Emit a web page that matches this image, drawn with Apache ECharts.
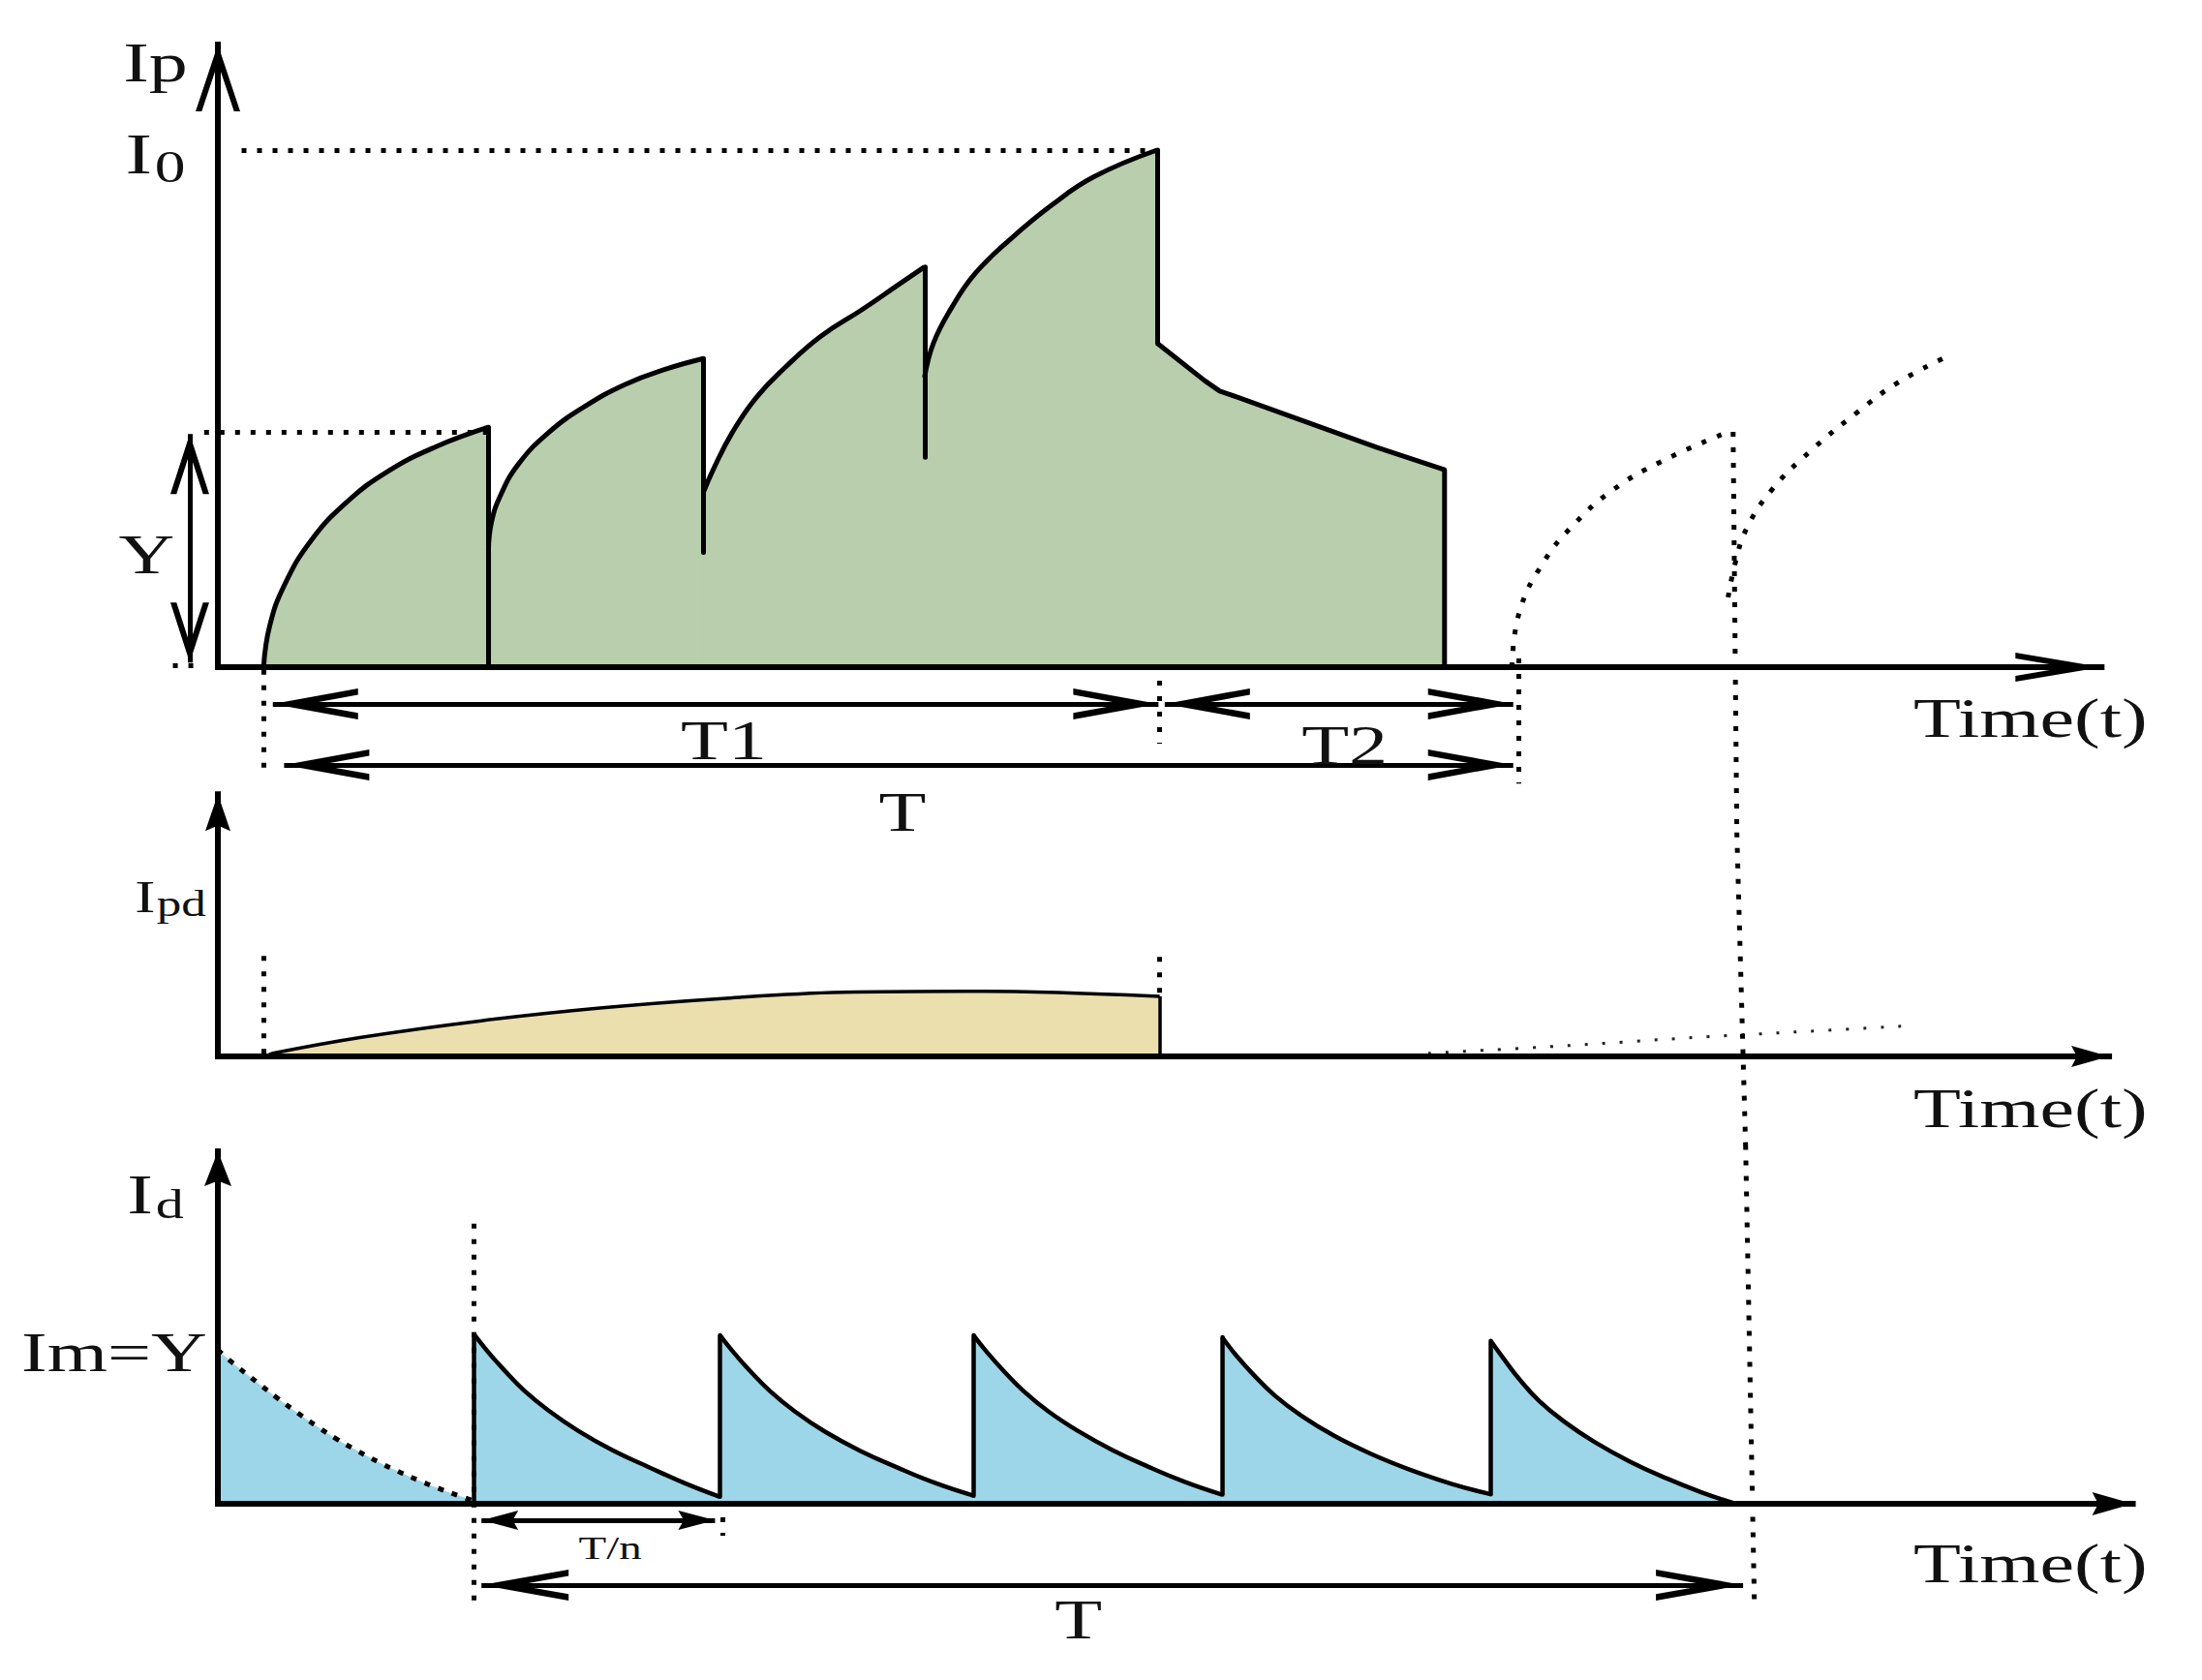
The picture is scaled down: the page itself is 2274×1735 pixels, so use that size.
<!DOCTYPE html>
<html><head><meta charset="utf-8">
<script src="https://cdn.jsdelivr.net/npm/echarts@6/dist/echarts.min.js"></script>
<style>html,body{margin:0;padding:0;background:#fff}#c{width:2274px;height:1735px}</style>
</head><body><div id="c"></div>
<script>
// ================= DATA (time t in arbitrary units, currents in arbitrary units) =================
// Panel 1 : Ip (I0 = 100, Y = 45.5)
const levelI0 = 100;
const levelY = 45.5;
const ipArc1 = [[3.66,0],[4.14,7.9],[5.33,15.9],[7.46,24.5],[10.31,31.9],[13.63,37.9],[17.43,42.6],[21.66,46.4]];
const ipArc2 = [[21.66,22.6],[21.9,28.0],[22.64,33.3],[24.07,39.3],[26.44,45.3],[29.29,50.3],[32.61,54.7],[35.93,57.7],[38.88,59.7]];
const ipArc3 = [[38.88,33.9],[39.73,38.6],[41.16,45.3],[43.05,52.0],[45.43,58.0],[48.27,64.0],[51.60,69.2],[54.44,73.9],[56.57,77.4]];
const ipArc4 = [[56.57,56.0],[57.29,62.7],[58.71,69.4],[60.61,76.1],[63.46,82.8],[66.78,89.4],[70.10,94.8],[75.18,100.0]];
const ipTail = [[75.18,62.7],[79.0,55.4],[80.2,53.4],[81.5,52.3],[92.8,42.5],[98.2,38.2],[98.2,0]];
const ipDrops = [[[21.66,46.4],[21.66,0]], [[38.88,59.7],[38.88,22.2]], [[56.57,77.4],[56.57,40.6]], [[75.18,100],[75.18,62.7]]];
const ipNextA = [[103.6,0],[104.2,10.7],[106.1,20.2],[108.6,27.7],[111.7,34.3],[115.5,39.7],[120.9,45.5]];
const ipNextB = [[120.9,13.5],[121.5,20.4],[122.4,26.9],[124.4,34.3],[127.5,41.8],[131.3,49.4],[134.4,54.9],[138.1,59.7]];
const p1Axes = [[[0,0],[0,120.4]], [[0,0],[150.8,0]]];
const p1DimT1 = [[4.4,-7.1],[75.3,-7.1]];
const p1DimT2 = [[75.8,-7.1],[103.7,-7.1]];
const p1DimT  = [[5.3,-18.9],[103.7,-18.9]];
const p1DimY  = [[-2.25,45.1],[-2.25,0.9]];
const p1Guides = [
  [[1.9,levelI0],[75.18,levelI0]],
  [[-1.1,levelY],[21.66,levelY]],
  [[-3.6,0.4],[-1.6,0.4]],
  [[3.7,-0.5],[3.7,-20.5]],
  [[75.35,-2.6],[75.35,-14.8]],
  [[104.1,1.7],[104.1,-22.5]],
  [[121.3,45.5],[121.6,-32]]
];

// Panel 2 : Ipd
const ipdCurve = [[3.9,0],[4.4,0.6],[11.5,3.7],[21.1,6.9],[30.8,9.4],[40.4,11.2],[50.0,12.4],[59.7,12.6],[66.3,12.4],[75.4,11.6]];
const ipdDrop = [[75.4,11.6],[75.4,0]];
const ipdNext = [[96.9,0.6],[108.1,2.1],[117.8,3.6],[126.1,4.7],[135.9,6.0]];
const p2Axes = [[[0,0],[0,50.7]], [[0,0],[151.4,0]]];
const p2Guides = [
  [[3.7,0.5],[3.7,20.2]],
  [[75.4,12.3],[75.4,20.0]],
  [[121.6,43.3],[122.3,-17.2]]
];

// Panel 3 : Id (Im = Y)
const idFirstDecay = [[0,42],[1.5,37.6],[3.1,33.3],[4.8,28.8],[6.4,24.8],[8.0,21.0],[9.5,17.7],[11.2,14.4],[12.8,11.5],[14.4,8.9],[16.0,6.5],[17.6,4.3],[19.2,2.3],[20.5,0.8]];
const idTooth1 = [[20.5,46.3],[21.6,41.6],[22.9,36.6],[24.5,31.0],[26.5,25.4],[28.9,19.8],[31.6,14.6],[34.5,10.0],[37.4,5.6],[40.2,1.9]];
const idTooth2 = [[40.2,46.0],[41.3,41.3],[42.6,36.3],[44.2,30.8],[46.2,25.2],[48.6,19.7],[51.4,14.5],[54.4,9.9],[57.4,5.7],[60.5,2.2]];
const idTooth3 = [[60.5,46.0],[61.6,41.3],[62.9,36.3],[64.5,30.8],[66.5,25.2],[68.9,19.8],[71.6,14.7],[74.5,10.1],[77.4,6.0],[80.4,2.5]];
const idTooth4 = [[80.4,45.5],[81.5,40.6],[82.9,35.3],[84.6,29.6],[86.8,23.9],[89.4,18.5],[92.4,13.5],[95.6,9.1],[98.8,5.4],[101.9,2.6]];
const idTooth5 = [[101.9,44.5],[102.9,39.8],[104.2,34.0],[105.8,28.0],[107.8,22.4],[110.2,16.9],[113.0,11.6],[116.0,6.9],[118.8,3.1],[121.5,0]];
const idRises = [[[20.5,0],[20.5,46.3]], [[40.2,1.9],[40.2,46.0]], [[60.5,2.2],[60.5,46.0]], [[80.4,2.5],[80.4,45.5]], [[101.9,2.6],[101.9,44.5]]];
const p3Axes = [[[0,0],[0,96.3]], [[0,0],[153.3,0]]];
const p3DimTn = [[21.1,-4.5],[39.8,-4.5]];
const p3DimT  = [[21.1,-22.2],[122.1,-22.2]];
const p3Guides = [
  [[20.5,76.5],[20.5,-26.5]],
  [[40.4,0.5],[40.4,-8.7]],
  [[122.3,98],[123.0,-26.5]]
];

// Text labels: [panel, t, I, text]
const labelTexts = [
  [0, -5.0, 116.9, 'Ip'],
  [0, -5.0, 98.6, 'I0'],
  [0, -5.7, 21.9, 'Y'],
  [0, 40.5, -14.2, 'T1'],
  [0, 90.2, -15.0, 'T2'],
  [0, 54.8, -28.0, 'T'],
  [0, 145.1, -9.8, 'Time(t)'],
  [1, -3.8, 30.5, 'Ipd'],
  [1, 145.1, -10.0, 'Time(t)'],
  [2, -5.0, 84.2, 'Id'],
  [2, -8.3, 41.5, 'Im=Y'],
  [2, 31.4, -12.0, 'T/n'],
  [2, 68.9, -31.6, 'T'],
  [2, 145.1, -16.2, 'Time(t)']
];

// ================= LAYOUT =================
const W = 2274, H = 1735;
const ORIGIN_X = 225, PX_T = 12.9, T_RANGE = [-17, 158.5];
const panels = [
  {base: 689,  pxI: 5.34, range: [-32, 128]},
  {base: 1091, pxI: 5.34, range: [-18, 52]},
  {base: 1553, pxI: 3.78, range: [-48, 98]}
];
const FONT = "'Liberation Serif','Times New Roman',serif";
const grids = panels.map(p => ({
  left: ORIGIN_X + T_RANGE[0] * PX_T,
  width: (T_RANGE[1] - T_RANGE[0]) * PX_T,
  top: p.base - p.range[1] * p.pxI,
  height: (p.range[1] - p.range[0]) * p.pxI,
  containLabel: false
}));

function chevron(w, h, th) {
  const L = Math.sqrt(w * w / 4 + h * h);
  const a = th * L / h, v = 2 * th * L / w;
  return 'path://M' + (w / 2) + ',' + (-h) + 'l0.01,0z M' + (w / 2) + ',0 L' + w + ',' + h + ' L' + (w - a) + ',' + h +
    ' L' + (w / 2) + ',' + v + ' L' + a + ',' + h + ' L0,' + h + ' Z';
}
function head(w, h) {
  return 'path://M' + (w / 2) + ',' + (-h) + 'l0.01,0z M' + (w / 2) + ',0 L' + w + ',' + h + ' L' + (w / 2) + ',' + (0.85 * h) + ' L0,' + h + ' Z';
}
function linesS(gi, segs, style, sym, size, z) {
  return {
    type: 'lines', coordinateSystem: 'cartesian2d', xAxisIndex: gi, yAxisIndex: gi,
    silent: true, z: z || 5, animation: false,
    symbol: sym || ['none', 'none'], symbolSize: size || [0, 0],
    lineStyle: Object.assign({color: '#000', opacity: 1, curveness: 0, width: 5}, style),
    data: segs.map(c => ({coords: c}))
  };
}
function lineS(gi, data, style, area, z, smooth) {
  const s = {
    type: 'line', xAxisIndex: gi, yAxisIndex: gi, data: data, symbol: 'none', showSymbol: false,
    silent: true, z: z || 2, animation: false, smooth: smooth || false,
    lineStyle: Object.assign({color: '#000', width: 5, join: 'round'}, style)
  };
  if (area) s.areaStyle = {color: area, opacity: 1};
  return s;
}
const DOT = {width: 5, type: [5, 11], cap: 'butt'};
const AX = {width: 6, cap: 'square'};
const GREEN = '#B9CEAC', YELLOW = '#EBDFAE', BLUE = '#9DD6E8';
const SM = 0.45;

const series = [
  // panel 1
  lineS(0, [].concat(ipArc1, ipArc2, ipArc3, ipArc4, ipTail), {width: 0, opacity: 0}, GREEN, 1, false),
  lineS(0, ipArc1, {width: 5}, GREEN, 2, SM),
  lineS(0, ipArc2, {width: 5}, GREEN, 2, SM),
  lineS(0, ipArc3, {width: 5}, GREEN, 2, SM),
  lineS(0, ipArc4, {width: 5}, GREEN, 2, SM),
  lineS(0, ipTail, {width: 5}, GREEN, 2, false),
  linesS(0, ipDrops, {width: 5, cap: 'round'}, null, null, 3),
  lineS(0, ipNextA, {width: 5, type: [5, 12]}, null, 3, SM),
  lineS(0, ipNextB, {width: 5, type: [5, 12]}, null, 3, SM),
  linesS(0, [p1Axes[0]], AX, ['none', chevron(46, 69, 6)], [0, [46, 138]], 6),
  linesS(0, [p1Axes[1]], AX, ['none', chevron(30, 89, 6)], [0, [30, 178]], 6),
  linesS(0, [p1DimT1, p1DimT2, p1DimT], {width: 5}, [chevron(32, 88, 6.5), chevron(32, 88, 6.5)], [[32, 176], [32, 176]], 6),
  linesS(0, [p1DimY], {width: 5}, [chevron(40, 62, 6), chevron(40, 62, 6)], [[40, 124], [40, 124]], 6),
  linesS(0, p1Guides, DOT, null, null, 5),
  // panel 2
  lineS(1, ipdCurve, {width: 3.5}, YELLOW, 2, 0.4),
  linesS(1, [ipdDrop], {width: 3.5}, null, null, 3),
  lineS(1, ipdNext, {width: 3, type: [3, 15], color: '#222'}, null, 3, 0.3),
  linesS(1, [p2Axes[0]], AX, ['none', head(26, 38)], [0, [26, 76]], 6),
  linesS(1, [p2Axes[1]], AX, ['none', head(22, 39)], [0, [22, 78]], 6),
  linesS(1, p2Guides, DOT, null, null, 5),
  // panel 3
  lineS(2, idFirstDecay, {width: 5, type: [6, 9]}, BLUE, 2, SM),
  lineS(2, idTooth1, {width: 4.5}, BLUE, 2, SM),
  lineS(2, idTooth2, {width: 4.5}, BLUE, 2, SM),
  lineS(2, idTooth3, {width: 4.5}, BLUE, 2, SM),
  lineS(2, idTooth4, {width: 4.5}, BLUE, 2, SM),
  lineS(2, idTooth5, {width: 4.5}, BLUE, 2, SM),
  linesS(2, idRises, {width: 4.5, cap: 'round'}, null, null, 3),
  linesS(2, [p3Axes[0]], AX, ['none', head(28, 36)], [0, [28, 72]], 6),
  linesS(2, [p3Axes[1]], AX, ['none', head(24, 42)], [0, [24, 84]], 6),
  linesS(2, [p3DimTn], {width: 5}, [head(20, 38), head(20, 38)], [[20, 76], [20, 76]], 6),
  linesS(2, [p3DimT], {width: 5}, [chevron(32, 90, 6.5), chevron(32, 90, 6.5)], [[32, 180], [32, 180]], 6),
  linesS(2, p3Guides, DOT, null, null, 5)
];

const chart = echarts.init(document.getElementById('c'), null, {renderer: 'svg', width: W, height: H});
chart.setOption({
  animation: false,
  backgroundColor: '#fff',
  grid: grids,
  xAxis: grids.map((g, i) => ({gridIndex: i, type: 'value', min: T_RANGE[0], max: T_RANGE[1], show: false})),
  yAxis: panels.map((p, i) => ({gridIndex: i, type: 'value', min: p.range[0], max: p.range[1], show: false})),
  series: series
});

// ---------- labels (real text, placed through the grids' scales) ----------
function richFor(txt) {
  const base = {fontFamily: FONT, color: '#111', verticalAlign: 'bottom'};
  if (txt === 'I0') return {text: '{i|I}{s|0}', rich: {i: Object.assign({fontSize: 60, padding: [0, 2, 6, 0]}, base), s: Object.assign({fontSize: 46}, base)}};
  if (txt === 'Ipd') return {text: '{i|I}{s|pd}', rich: {i: Object.assign({fontSize: 46, padding: [0, 1, 2, 0]}, base), s: Object.assign({fontSize: 37}, base)}};
  if (txt === 'Id') return {text: '{i|I}{s|d}', rich: {i: Object.assign({fontSize: 58, padding: [0, 2, 2, 0]}, base), s: Object.assign({fontSize: 42}, base)}};
  return null;
}
const sizeFor = {'T/n': 34};
const graphics = labelTexts.map(([gi, t, v, txt]) => {
  const p = chart.convertToPixel({gridIndex: gi}, [t, v]);
  const r = richFor(txt);
  const style = {
    text: r ? r.text : txt, fontFamily: FONT, fontSize: sizeFor[txt] || 58,
    fill: '#111', align: 'center', verticalAlign: 'middle'
  };
  if (r) style.rich = r.rich;
  return {type: 'text', x: p[0], y: p[1], scaleX: 1.38, scaleY: 1, z: 100, silent: true, style: style};
});
chart.setOption({graphic: graphics});
</script>
</body></html>
